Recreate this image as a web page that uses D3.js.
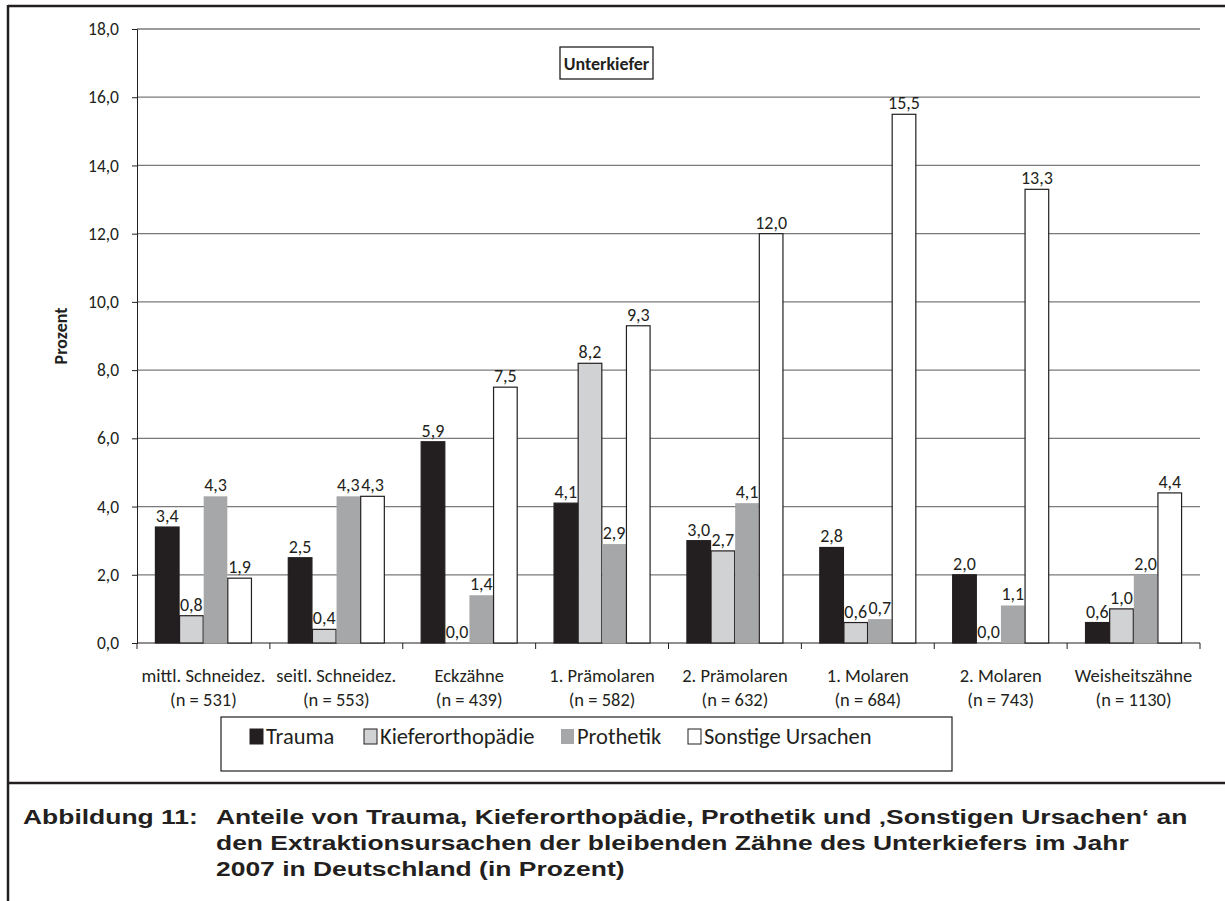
<!DOCTYPE html>
<html>
<head>
<meta charset="utf-8">
<script src="https://cdn.jsdelivr.net/npm/d3@7"></script>
<style>
  body { margin: 0; background: #fff; }
  svg text { fill: #231f20; }
</style>
</head>
<body>
<div id="chart"></div>
<script>
const categories = ["mittl. Schneidez.", "seitl. Schneidez.", "Eckzähne", "1. Prämolaren", "2. Prämolaren", "1. Molaren", "2. Molaren", "Weisheitszähne"]
const sampleSizes = ["(n = 531)", "(n = 553)", "(n = 439)", "(n = 582)", "(n = 632)", "(n = 684)", "(n = 743)", "(n = 1130)"]
const seriesNames = ["Trauma", "Kieferorthopädie", "Prothetik", "Sonstige Ursachen"]
const trauma = [3.4, 2.5, 5.9, 4.1, 3.0, 2.8, 2.0, 0.6]
const kieferorthopaedie = [0.8, 0.4, 0.0, 8.2, 2.7, 0.6, 0.0, 1.0]
const prothetik = [4.3, 4.3, 1.4, 2.9, 4.1, 0.7, 1.1, 2.0]
const sonstige = [1.9, 4.3, 7.5, 9.3, 12.0, 15.5, 13.3, 4.4]
const yTicks = [0, 2, 4, 6, 8, 10, 12, 14, 16, 18]

const seriesValues = [trauma, kieferorthopaedie, prothetik, sonstige]
const fills = ["#231f20", "#d1d2d4", "#a6a7a9", "#ffffff"]
const strokes = ["#231f20", "#231f20", "none", "#231f20"]

const WIDTH = 1225, HEIGHT = 901
const MARGIN = { LEFT: 137, RIGHT: 25, TOP: 29, BOTTOM: 258 }
const plotW = WIDTH - MARGIN.LEFT - MARGIN.RIGHT
const plotH = HEIGHT - MARGIN.TOP - MARGIN.BOTTOM
const chartFont = "Carlito, Lato, 'Open Sans', sans-serif"
const fmt = v => d3.format(".1f")(v).replace(".", ",")

const svg = d3.select("#chart").append("svg")
  .attr("width", WIDTH)
  .attr("height", HEIGHT)

// outer frame lines
svg.append("line").attr("x1", 8).attr("x2", WIDTH).attr("y1", 6).attr("y2", 6)
  .attr("stroke", "#231f20").attr("stroke-width", 2.5)
svg.append("line").attr("x1", 8).attr("x2", 8).attr("y1", 5).attr("y2", HEIGHT)
  .attr("stroke", "#231f20").attr("stroke-width", 2.5)
svg.append("line").attr("x1", 8).attr("x2", WIDTH).attr("y1", 783).attr("y2", 783)
  .attr("stroke", "#231f20").attr("stroke-width", 2.5)

const g = svg.append("g")
  .attr("transform", `translate(${MARGIN.LEFT}, ${MARGIN.TOP})`)

const x0 = d3.scaleBand().domain(categories).range([0, plotW]).paddingInner(0.27).paddingOuter(0.135)
const xBound = d3.scaleLinear().domain([0, categories.length]).range([0, plotW])
const x1 = d3.scaleBand().domain(seriesNames).range([0, x0.bandwidth()]).padding(0.02)
const y = d3.scaleLinear().domain([0, 18]).range([plotH, 0])

// gridlines
g.append("g")
  .selectAll("line")
  .data(yTicks.filter(d => d > 0))
  .enter().append("line")
    .attr("x1", 0).attr("x2", plotW)
    .attr("y1", d => y(d)).attr("y2", d => y(d))
    .attr("stroke", "#7a7a7a").attr("stroke-width", 1.3)

// y axis
const yAxis = g.append("g")
  .call(d3.axisLeft(y).tickValues(yTicks).tickSize(5).tickPadding(13).tickFormat(fmt))
yAxis.select(".domain").attr("stroke", "#231f20")
yAxis.selectAll(".tick line").attr("stroke", "#231f20")
yAxis.selectAll("text").attr("font-family", chartFont).attr("font-size", "17.5px").attr("fill", "#231f20")

// x axis with ticks at category boundaries
const xAxis = g.append("g").attr("transform", `translate(0, ${plotH})`)
xAxis.append("line").attr("x1", 0).attr("x2", plotW).attr("stroke", "#231f20")
xAxis.selectAll(".xtick")
  .data(d3.range(categories.length + 1))
  .enter().append("line")
    .attr("x1", d => xBound(d)).attr("x2", d => xBound(d))
    .attr("y1", 0).attr("y2", 6)
    .attr("stroke", "#231f20")

const xLab = xAxis.selectAll(".xlab")
  .data(categories)
  .enter().append("text")
    .attr("x", (d, i) => xBound(i + 0.5))
    .attr("text-anchor", "middle")
    .attr("font-family", chartFont)
    .attr("font-size", "18.5px")
xLab.append("tspan").attr("x", (d, i) => xBound(i + 0.5)).attr("y", 39).text(d => d)
xLab.append("tspan").attr("x", (d, i) => xBound(i + 0.5)).attr("y", 63).text((d, i) => sampleSizes[i])

// y axis label
g.append("text")
  .attr("transform", "rotate(-90)")
  .attr("x", -307)
  .attr("y", -70)
  .attr("text-anchor", "middle")
  .attr("font-family", chartFont)
  .attr("font-weight", "bold")
  .attr("font-size", "18px")
  .text("Prozent")

// bars
const groups = g.selectAll(".group")
  .data(categories)
  .enter().append("g")
    .attr("class", "group")
    .attr("transform", d => `translate(${x0(d)}, 0)`)

seriesNames.forEach((s, si) => {
  groups.append("rect")
    .attr("x", x1(s))
    .attr("y", (d, i) => y(seriesValues[si][i]))
    .attr("width", x1.bandwidth())
    .attr("height", (d, i) => y(0) - y(seriesValues[si][i]))
    .attr("fill", fills[si])
    .attr("stroke", strokes[si])
    .attr("stroke-width", 1.2)

  groups.append("text")
    .attr("x", x1(s) + x1.bandwidth() / 2)
    .attr("y", (d, i) => y(seriesValues[si][i]) - 5)
    .attr("text-anchor", "middle")
    .attr("font-family", chartFont)
    .attr("font-size", "18px")
    .text((d, i) => fmt(seriesValues[si][i]))
})

// title box
const titleG = svg.append("g").attr("transform", "translate(560, 47)")
titleG.append("rect").attr("width", 93).attr("height", 32)
  .attr("fill", "#fff").attr("stroke", "#231f20").attr("stroke-width", 1.3)
titleG.append("text").attr("x", 46.5).attr("y", 22.5)
  .attr("text-anchor", "middle")
  .attr("font-family", chartFont)
  .attr("font-weight", "bold")
  .attr("font-size", "18px")
  .text("Unterkiefer")

// legend
const legend = svg.append("g").attr("transform", "translate(221, 717)")
legend.append("rect").attr("width", 731).attr("height", 54)
  .attr("fill", "#fff").attr("stroke", "#231f20").attr("stroke-width", 1.2)
const legendX = [29, 143, 340, 467]
const legendCol = legend.selectAll(".legendCol")
  .data(seriesNames)
  .enter().append("g")
    .attr("transform", (d, i) => `translate(${legendX[i]}, 0)`)
legendCol.append("rect")
  .attr("y", 12).attr("width", 13).attr("height", 15)
  .attr("fill", (d, i) => fills[i])
  .attr("stroke", (d, i) => i === 2 ? "none" : "#231f20")
  .attr("stroke-width", 1)
legendCol.append("text")
  .attr("x", 16).attr("y", 27)
  .attr("font-family", chartFont)
  .attr("font-size", "22.5px")
  .text(d => d)

// caption (bold sans, a little wider than normal)
const capScale = 1.26
const caption = svg.append("g")
  .attr("transform", `scale(${capScale}, 1)`)
  .attr("font-family", "'Liberation Sans', Arial, sans-serif")
  .attr("font-weight", "bold")
  .attr("font-size", "21px")
caption.append("text").attr("x", 23 / capScale).attr("y", 824).text("Abbildung 11:")
const capLines = [
  "Anteile von Trauma, Kieferorthopädie, Prothetik und ‚Sonstigen Ursachen‘ an",
  "den Extraktionsursachen der bleibenden Zähne des Unterkiefers im Jahr",
  "2007 in Deutschland (in Prozent)"
]
caption.selectAll(".cap")
  .data(capLines)
  .enter().append("text")
    .attr("x", 216 / capScale)
    .attr("y", (d, i) => 824 + i * 26)
    .text(d => d)
</script>
</body>
</html>
